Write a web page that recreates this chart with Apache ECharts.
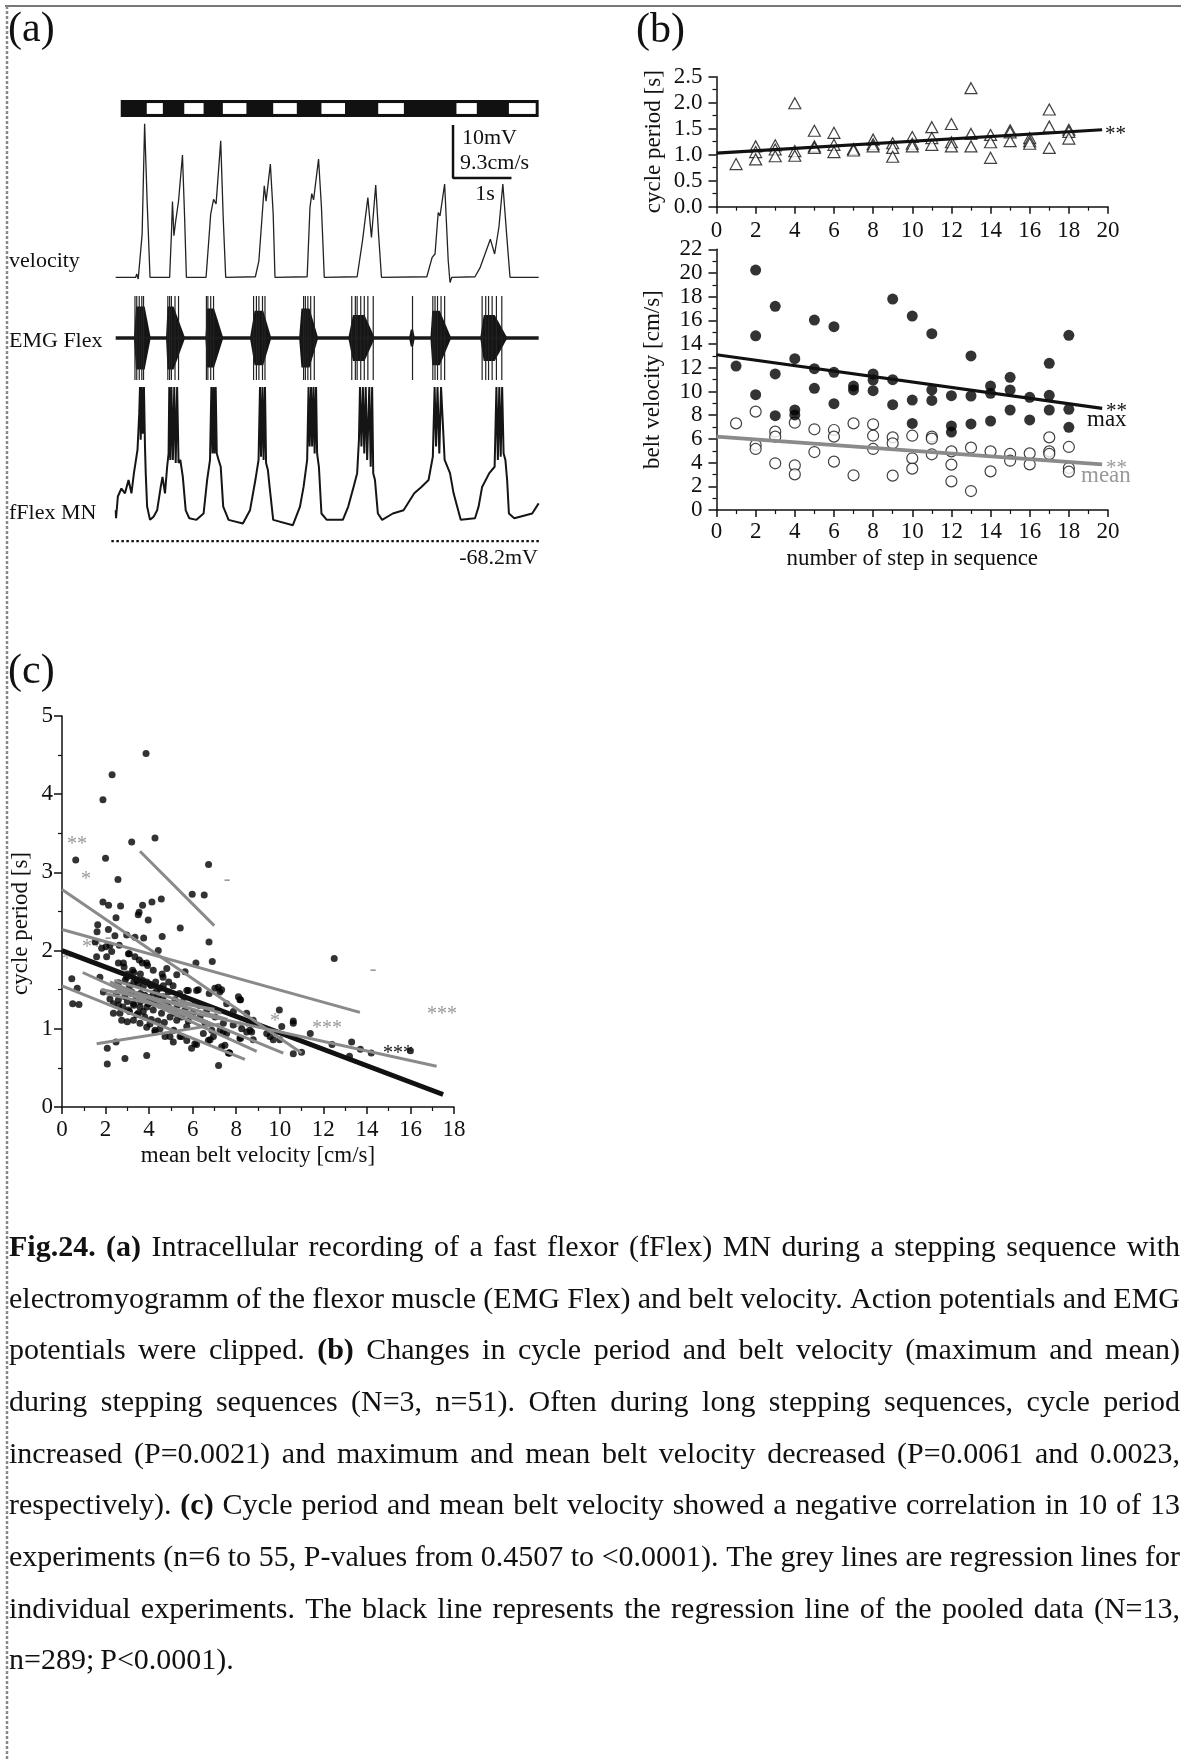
<!DOCTYPE html>
<html><head><meta charset="utf-8">
<script src="https://cdn.jsdelivr.net/npm/echarts@6.0.0/dist/echarts.min.js"></script>
<style>html,body{margin:0;padding:0;background:#fff}#c{width:1181px;height:1760px}</style>
</head><body><div id="c"></div>
<script>
const FONT = '"Liberation Serif", "Times New Roman", serif';

// ---------- (a) recording ----------
const barExtent = [0.087, 7.31];
const barWhiteIntervals = [[0.537,0.815],[1.185,1.519],[1.852,2.259],[2.722,3.13],[3.556,3.963],[4.537,4.981],[5.889,6.241],[6.796,7.259]];
const velocityTrace = [
[0,0],[0.346,0],[0.364,0.6],[0.389,-0.3],[0.42,0],[0.457,7.6],[0.5,27.0],[0.543,13.4],[0.593,0],
[0.932,0],[0.963,7.6],[0.981,13.3],[1.006,7.3],[1.037,9.9],[1.086,13.4],[1.154,21.5],[1.191,10.5],[1.222,0],
[1.562,0],[1.642,11.1],[1.691,13.7],[1.735,12.9],[1.815,24.0],[1.858,10.5],[1.901,0],
[2.414,0.1],[2.475,2.9],[2.568,16.1],[2.599,13.4],[2.673,19.9],[2.722,11.1],[2.753,0],
[3.309,0.1],[3.358,12.3],[3.389,14.7],[3.42,13.6],[3.506,20.8],[3.556,12.3],[3.605,0],
[4.173,0.1],[4.265,6.4],[4.358,14.0],[4.42,7.0],[4.494,16.2],[4.543,7.6],[4.593,0],
[5.377,0.1],[5.469,3.5],[5.519,4.1],[5.574,11.4],[5.605,10.8],[5.685,16.4],[5.747,2.9],[5.778,-0.9],[5.809,0],
[6.21,0.1],[6.302,1.8],[6.475,6.7],[6.549,4.1],[6.623,8.8],[6.691,16.4],[6.765,6.4],[6.815,0],[7.31,0]
];
const emgBursts = [
[0.315,0.352,0.50,0.605,0.75],[0.87,0.895,1.0,1.2,0.75],[1.55,1.58,1.70,1.86,0.7],
[2.32,2.40,2.55,2.69,0.65],[3.17,3.21,3.35,3.50,0.7],[4.02,4.10,4.30,4.48,0.55],
[5.07,5.10,5.14,5.17,0.2],[5.44,5.47,5.60,5.80,0.65],[6.30,6.36,6.55,6.77,0.55]
];
const emgSpikes = [0.333,0.364,0.407,0.451,0.481,0.901,0.932,0.963,1.025,1.086,1.568,1.593,1.642,1.691,
2.383,2.432,2.475,2.537,2.58,3.247,3.278,3.321,3.37,3.432,4.08,4.142,4.173,4.235,4.296,4.358,4.451,5.13,
5.481,5.519,5.562,5.623,5.685,6.333,6.395,6.444,6.506,6.58,6.673];
const mnTrace = [
[0,-62.4],[0.006,-63.9],[0.037,-59.8],[0.099,-58.3],[0.16,-59.2],[0.222,-56.7],[0.272,-59.2],[0.315,-55.4],[0.377,-51.0],[0.407,-44.1],
[0.42,-39.2],[0.432,-49.1],[0.451,-39.2],[0.469,-48.0],[0.488,-39.2],[0.506,-50.4],
[0.519,-55.4],[0.543,-61.7],[0.593,-64.2],[0.654,-63.6],[0.716,-62.4],[0.778,-58.0],[0.809,-56.1],[0.852,-59.2],[0.889,-54.2],[0.914,-51.7],
[0.926,-39.2],[0.944,-52.9],[0.963,-39.2],[0.988,-52.9],[1.012,-39.2],[1.037,-53.5],[1.062,-39.2],[1.086,-53.5],
[1.117,-52.9],[1.16,-56.1],[1.21,-62.4],[1.272,-63.9],[1.395,-64.2],[1.519,-63.0],[1.58,-56.7],[1.63,-52.9],
[1.654,-39.2],[1.673,-51.7],[1.691,-39.2],[1.71,-51.7],[1.728,-39.2],[1.747,-51.7],
[1.778,-52.9],[1.815,-54.2],[1.858,-61.7],[1.951,-64.2],[2.198,-64.9],[2.321,-62.4],[2.414,-56.7],[2.469,-52.9],
[2.494,-39.2],[2.512,-52.3],[2.537,-39.2],[2.556,-52.9],[2.58,-39.2],[2.599,-53.5],
[2.63,-54.8],[2.66,-58.0],[2.722,-64.2],[3.062,-65.2],[3.185,-61.7],[3.247,-58.0],[3.309,-52.9],
[3.333,-39.2],[3.352,-50.4],[3.377,-39.2],[3.395,-50.4],[3.42,-39.2],[3.438,-51.7],[3.463,-39.2],
[3.481,-51.7],[3.512,-54.2],[3.556,-63.0],[3.648,-64.2],[3.926,-64.2],[4.019,-61.7],[4.111,-58.0],[4.173,-55.4],[4.204,-49.1],
[4.222,-39.2],[4.247,-50.4],[4.272,-39.2],[4.296,-51.7],[4.321,-39.2],[4.346,-52.9],[4.383,-39.2],[4.407,-54.2],[4.432,-39.2],
[4.451,-55.4],[4.481,-56.7],[4.531,-63.0],[4.605,-64.2],[4.79,-63.0],[4.975,-62.4],[5.16,-59.2],[5.284,-58.0],[5.407,-56.7],[5.481,-52.3],
[5.512,-39.2],[5.537,-50.4],[5.562,-39.2],[5.593,-51.7],[5.623,-39.2],
[5.685,-52.9],[5.778,-55.4],[5.84,-59.2],[5.963,-64.2],[6.21,-63.9],[6.272,-61.7],[6.333,-58.0],[6.457,-55.4],[6.549,-54.2],
[6.58,-39.2],[6.605,-52.9],[6.63,-39.2],[6.654,-52.3],[6.679,-39.2],[6.704,-51.7],
[6.735,-52.9],[6.765,-56.7],[6.796,-63.0],[6.889,-63.9],[7.198,-63.0],[7.31,-61.1]
];
const restPotential = -68.2;
const restLineRange = [-0.075, 7.32];
const scaleBarTime = [5.83, 6.84];     // 1 s
const scaleBarVel = [17.45, 26.75];    // 9.3 cm/s

// ---------- (b) ----------
const stepNumbers = [1,2,3,4,5,6,7,8,9,10,11,12,13,14,15,16,17,18];
const cyclePeriodByStep = [[0.82],[1.16,1.05,0.91],[1.18,1.10,0.97],[1.99,1.07,0.98],[1.46,1.16,1.13],[1.42,1.19,1.05],
[1.11,1.08],[1.29,1.20,1.16],[1.22,1.13,0.96],[1.34,1.21,1.16],[1.53,1.32,1.19],[1.59,1.24,1.16],[2.28,1.40,1.16],
[1.38,1.24,0.94],[1.47,1.43,1.26],[1.32,1.26,1.21],[1.87,1.54,1.13],[1.48,1.44,1.31]];
const maxVelByStep = [[12.15],[20.25,14.7,9.73],[17.19,11.48,7.96],[12.77,8.44,8.02],[16.03,11.93,10.27],[15.47,11.62,8.97],
[10.46,10.13],[11.48,10.97,10.07],[17.8,11.0,8.89],[16.37,9.28,7.31],[14.88,10.13,9.25],[9.65,7.09,6.58],[13.0,9.62,7.26],
[10.46,9.85,7.51],[11.2,10.13,8.44],[9.51,7.6],[12.38,9.68,8.44],[14.74,8.5,6.98]];
const meanVelByStep = [[7.31],[8.3,5.49,5.15],[6.61,6.19,3.94],[7.37,3.77,3.01],[6.81,4.89],[6.75,6.19,4.08],[7.31,2.93],
[7.23,6.27,5.15],[6.13,5.63,2.9],[6.27,4.36,3.49],[6.19,6.02,4.7],[4.95,3.83,2.42],[5.26,1.6],[4.95,3.26],[4.73,4.16],
[4.78,3.85],[6.13,4.95,4.73],[5.32,3.54,3.23]];
const cycleFit = [[0,1.03],[19.7,1.48]];
const maxFit = [[0,13.1],[19.7,8.58]];
const meanFit = [[0,6.19],[19.7,3.85]];

// ---------- (c) ----------
const pooledPoints = [
[3.86,4.52],[2.30,4.25],[1.88,3.93],[4.27,3.44],[3.2,3.39],[0.63,3.16],[2.0,3.18],[6.73,3.10],[2.57,2.91],[5.98,2.72],
[6.53,2.71],[1.88,2.62],[2.14,2.58],[2.69,2.57],[4.56,2.66],[4.13,2.62],[3.7,2.58],[3.54,2.49],[3.96,2.39],[1.64,2.33],
[5.43,2.29],[2.13,2.27],[1.61,2.24],[2.43,2.19],[3.35,2.17],[3.75,2.16],[4.6,2.18],[2.48,2.42],[3.5,2.46],[2.97,2.2],
[1.52,2.11],[1.59,1.92],[1.82,2.03],[2.2,2.07],[3.05,1.96],[2.82,1.84],[3.35,1.92],[3.69,1.84],[3.93,1.81],
[12.5,1.90],[6.75,2.11],[6.9,1.86],[6.15,1.84],[0.45,1.64],[0.7,1.52],[0.49,1.32],[0.78,1.31],
[9.98,1.24],[8.1,1.41],[8.2,1.37],[10.62,1.10],[10.62,1.07],[10.09,1.03],[11.0,0.70],[10.62,0.68],[12.4,0.80],
[13.3,0.83],[13.2,0.65],[13.7,0.74],[14.2,0.69],[16.0,0.72],[11.4,0.94],[9.55,0.9],[8.78,0.86],[8.2,0.88],[8.48,0.96],
[8.48,1.20],[7.19,0.53],[3.89,0.66],[2.89,0.62],[2.08,0.55],[2.08,0.75],[2.48,0.83],[5.95,0.75],[6.18,0.80],[7.68,0.69],
[6.95,0.90],[7.86,1.05],[7.56,1.32],[7.18,1.53],[7.33,1.50],[6.76,1.45],[6.26,1.50],[5.73,1.49],[5.4,1.45],[5.19,1.37],
[6.1,1.32],[5.65,1.24],[6.34,1.15],[6.65,1.24],[5.73,1.03],[5.42,0.90],[5.13,0.98],[4.73,0.90],[4.27,0.96],[4.04,1.06],
[3.58,1.07],[3.28,1.11],[3.0,1.09],[2.66,1.20],[2.36,1.32],[1.9,1.47],[2.2,1.38],[1.74,1.66],[2.05,1.92],[2.02,2.05],
[2.28,1.99],[2.63,2.07],[3.09,1.96],[4.42,2.0],[4.81,1.77],[5.27,1.69],[5.65,1.73],[4.64,1.66],[4.19,1.75],[3.89,1.84],
[3.55,1.88],[3.24,1.75],[2.85,1.79],[2.59,1.84],[2.97,1.66],[2.59,1.59],[3.43,1.62],[3.73,1.54],[4.04,1.57],[4.35,1.49],
[4.65,1.55],[4.88,1.47],[4.65,1.41],[4.35,1.37],[3.97,1.32],[3.58,1.28],[3.28,1.32],[3.05,1.24],[3.43,1.18],[3.73,1.22],
[4.19,1.24],[4.57,1.20],[4.96,1.15],[5.27,1.11],[4.88,1.28],[3.2,1.47],[2.89,1.41],[2.59,1.37],[2.36,1.20],[2.74,1.11],
[3.89,1.02],[4.5,1.0],[5.11,0.83],[5.73,0.85],[6.49,0.94],[6.72,0.85],[7.26,0.98],[6.57,1.07],[7.03,1.15],[7.87,1.22],
[7.56,0.94],[8.78,1.11],[9.4,0.94],[7.02,1.52],[7.25,1.47],[6.18,1.49],[5.8,1.49],[8.63,0.98],[8.17,0.88],[9.7,0.86],
[10.0,0.86],[7.48,0.79],[7.33,0.77],[7.7,0.69],[6.88,0.98],[7.41,0.96],[7.41,1.07],[8.25,1.0],[4.27,0.98],[4.96,0.90],
[5.49,0.90],[6.1,0.81],[6.8,0.86],[7.64,0.69],[8.71,0.96],[8.17,1.37],
[3.1,1.55],[3.3,1.6],[3.5,1.58],[3.7,1.62],[3.9,1.6],[4.1,1.55],[4.3,1.6],[4.5,1.52],[3.2,1.45],[3.4,1.42],
[3.6,1.45],[3.8,1.43],[4.0,1.4],[4.2,1.45],[4.4,1.42],[3.0,1.35],[3.3,1.3],[3.6,1.35],[3.9,1.28],[4.2,1.33],
[4.5,1.3],[4.8,1.33],[5.0,1.25],[2.8,1.28],[3.1,1.22],[3.5,1.2],[3.8,1.15],[4.1,1.12],[4.4,1.1],[4.7,1.08],
[2.7,1.5],[2.9,1.62],[3.0,1.7],[3.3,1.72],[3.6,1.7],[2.5,1.45],[2.6,1.3],[5.2,1.2],[5.5,1.15],[5.8,1.1],
[6.0,1.2],[6.3,1.3],[5.3,1.3],[5.6,1.4],[4.6,1.7],[4.9,1.6],[5.1,1.55]
];
const experimentFits = [
[3.58,3.27,6.99,2.32],[0,2.78,11.0,0.69],[0,2.27,13.68,1.21],[0,1.55,8.4,0.61],[0.95,1.72,8.94,0.71],
[2.0,1.45,17.2,0.52],[1.59,0.81,7.25,1.06],[2.2,1.6,10.16,0.69],[2.3,1.55,7.6,1.12],[2.5,1.5,6.8,1.05],
[2.4,1.62,7.3,1.2],[1.8,1.5,7.0,1.25]
];
const pooledFit = [[0,2.0],[17.5,0.16]];

// ---------- caption ----------
const captionLines = [
"^Fig.24. ^(a) Intracellular recording of a fast flexor (fFlex) MN during a stepping sequence with",
"electromyogramm of the flexor muscle (EMG Flex) and belt velocity. Action potentials and EMG",
"potentials were clipped. ^(b) Changes in cycle period and belt velocity (maximum and mean)",
"during stepping sequences (N=3, n=51). Often during long stepping sequences, cycle period",
"increased (P=0.0021) and maximum and mean belt velocity decreased (P=0.0061 and 0.0023,",
"respectively). ^(c) Cycle period and mean belt velocity showed a negative correlation in 10 of 13",
"experiments (n=6 to 55, P-values from 0.4507 to <0.0001). The grey lines are regression lines for",
"individual experiments. The black line represents the regression line of the pooled data (N=13,",
"n=289; P<0.0001)."
];

// ================= build =================
const chart = echarts.init(document.getElementById('c'), null, {renderer: 'canvas', width: 1181, height: 1760});
const GRAY = '#8a8a8a';
const TXT = '#111';

function txt(text, x, y, size, opts) {
  opts = opts || {};
  return {
    type: 'text', x: x, y: y, z: opts.z != null ? opts.z : 10,
    style: {
      text: text, fontSize: size, fontFamily: FONT, fontWeight: opts.bold ? 'bold' : 'normal',
      fill: opts.color || TXT,
      align: opts.align || 'left', textAlign: opts.align || 'left',
      verticalAlign: 'middle', textVerticalAlign: 'middle'
    }
  };
}

function captionElements() {
  const ctx = document.createElement('canvas').getContext('2d');
  const size = 30, left = 9, right = 1180, top = 1248, lead = 51.7;
  const els = [];
  captionLines.forEach((line, i) => {
    const words = line.split(' ').map(w => ({bold: w.charAt(0) === '^', text: w.replace(/^\^/, '')}));
    words.forEach(w => {
      ctx.font = (w.bold ? 'bold ' : '') + size + 'px ' + FONT;
      w.width = ctx.measureText(w.text).width;
    });
    const total = words.reduce((s, w) => s + w.width, 0);
    const last = i === captionLines.length - 1;
    const gap = last ? size * 0.2 : (right - left - total) / (words.length - 1);
    let x = left;
    words.forEach(w => {
      els.push(txt(w.text, x, top + i * lead, size, {bold: w.bold}));
      x += w.width + gap;
    });
  });
  return els;
}

const aMin = -0.1, aMax = 7.33, aPxPerSec = 57.86, aZeroX = 115.7;
const aLeft = aZeroX + aMin * aPxPerSec, aWidth = (aMax - aMin) * aPxPerSec;
const grids = [
  {left: aLeft, top: 100, width: aWidth, height: 17},      // 0 bar
  {left: aLeft, top: 118, width: aWidth, height: 165},     // 1 velocity
  {left: aLeft, top: 296, width: aWidth, height: 84},      // 2 EMG
  {left: aLeft, top: 385, width: aWidth, height: 163},     // 3 MN
  {left: 716.5, top: 76.7, width: 391.5, height: 130},     // 4 (b) cycle
  {left: 716.5, top: 249.3, width: 391.5, height: 260.7},  // 5 (b) velocity
  {left: 62, top: 716, width: 392, height: 391}            // 6 (c)
];

function hiddenAxis(gi, min, max) {
  return {type: 'value', gridIndex: gi, min: min, max: max, show: false};
}
function sciAxis(gi, min, max, interval, o) {
  o = o || {};
  return {
    type: 'value', gridIndex: gi, min: min, max: max, interval: interval,
    axisLine: {show: true, onZero: false, lineStyle: {color: TXT, width: 1.5}},
    axisTick: {show: true, inside: false, length: o.tick || 7, lineStyle: {color: TXT, width: 1.5}},
    minorTick: {show: true, splitNumber: 2, length: 4, lineStyle: {color: TXT, width: 1.2}},
    splitLine: {show: false}, minorSplitLine: {show: false},
    axisLabel: {fontSize: 23, lineHeight: 18, fontFamily: FONT, color: TXT, margin: o.margin != null ? o.margin : 8,
      showMinLabel: true, showMaxLabel: true, hideOverlap: false,
      formatter: o.fmt || (v => String(v))},
    name: o.name || '', nameLocation: 'middle', nameGap: o.nameGap || 30,
    nameTextStyle: Object.assign({fontSize: 23, fontFamily: FONT, color: TXT}, o.namePad ? {padding: o.namePad} : {})
  };
}

const xAxes = [
  hiddenAxis(0, aMin, aMax), hiddenAxis(1, aMin, aMax), hiddenAxis(2, aMin, aMax), hiddenAxis(3, aMin, aMax),
  sciAxis(4, 0, 20, 2, {tick: 7, margin: 15}),
  sciAxis(5, 0, 20, 2, {tick: 7, margin: 12.5, name: 'number of step in sequence', nameGap: 37}),
  sciAxis(6, 0, 18, 2, {tick: 7, margin: 14, name: 'mean belt velocity [cm/s]', nameGap: 37})
];
const yAxes = [
  hiddenAxis(0, 0, 1), hiddenAxis(1, -1, 28), hiddenAxis(2, -1, 1), hiddenAxis(3, -69.5, -38.8),
  sciAxis(4, 0, 2.5, 0.5, {tick: 8, margin: 14, fmt: v => v.toFixed(1), name: 'cycle period [s]', nameGap: 51}),
  sciAxis(5, 0, 22, 2, {tick: 8, margin: 14, name: 'belt velocity [cm/s]', nameGap: 52}),
  sciAxis(6, 0, 5, 1, {tick: 8, margin: 9, name: 'cycle period [s]', nameGap: 30, namePad: [0, 24, 0, 0]})
];

function lineSeries(gi, data, color, width, extra) {
  return Object.assign({
    type: 'line', xAxisIndex: gi, yAxisIndex: gi, data: data, showSymbol: false, symbol: 'none',
    lineStyle: {color: color, width: width}, silent: true, animation: false, z: 3
  }, extra || {});
}
function byStep(arr) {
  return stepNumbers.flatMap((s, i) => arr[i].map(v => [s, v]));
}

const series = [
  {type: 'custom', xAxisIndex: 0, yAxisIndex: 0, data: [barExtent], animation: false, silent: true,
    renderItem: (p, api) => {
      const a = api.coord([api.value(0), 1]), b = api.coord([api.value(1), 0]);
      return {type: 'rect', shape: {x: a[0], y: a[1], width: b[0] - a[0], height: b[1] - a[1]}, style: {fill: '#111'}};
    }},
  {type: 'custom', xAxisIndex: 0, yAxisIndex: 0, data: barWhiteIntervals, animation: false, silent: true, z: 3,
    renderItem: (p, api) => {
      const a = api.coord([api.value(0), 0.82]), b = api.coord([api.value(1), 0.18]);
      return {type: 'rect', shape: {x: a[0], y: a[1], width: b[0] - a[0], height: b[1] - a[1]}, style: {fill: '#fff'}};
    }},
  lineSeries(1, velocityTrace, '#222', 1.3),
  lineSeries(1, [[scaleBarTime[0], scaleBarVel[1]], [scaleBarTime[0], scaleBarVel[0]], [scaleBarTime[1], scaleBarVel[0]]], '#111', 2.5),
  lineSeries(2, [[0, 0], [7.31, 0]], '#1a1a1a', 3.5),
  {type: 'custom', xAxisIndex: 2, yAxisIndex: 2, data: emgBursts, animation: false, silent: true, z: 3,
    renderItem: (p, api) => {
      const t0 = api.value(0), t1 = api.value(1), t2 = api.value(2), t3 = api.value(3), a = api.value(4);
      const pts = [[t0, 0], [t1, a], [t2, a], [t3, 0], [t2, -a], [t1, -a]].map(q => api.coord(q));
      return {type: 'polygon', shape: {points: pts}, style: {fill: '#151515'}};
    }},
  {type: 'custom', xAxisIndex: 2, yAxisIndex: 2, data: emgSpikes.map(t => [t]), animation: false, silent: true, z: 4,
    renderItem: (p, api) => {
      const a = api.coord([api.value(0), 1]), b = api.coord([api.value(0), -1]);
      return {type: 'line', shape: {x1: a[0], y1: a[1], x2: b[0], y2: b[1]}, style: {stroke: '#222', lineWidth: 1.2}};
    }},
  lineSeries(3, mnTrace, '#151515', 2),
  lineSeries(3, [[restLineRange[0], restPotential], [restLineRange[1], restPotential]], '#111', 2.2, {lineStyle: {color: '#111', width: 2.2, type: [2.5, 2.5]}}),
  {type: 'scatter', xAxisIndex: 4, yAxisIndex: 4, data: byStep(cyclePeriodByStep), symbol: 'triangle', symbolSize: [12, 11],
    itemStyle: {color: '#fff', borderColor: '#111', borderWidth: 1.2}, animation: false, z: 2},
  lineSeries(4, cycleFit, '#111', 3.2, {z: 4}),
  {type: 'scatter', xAxisIndex: 5, yAxisIndex: 5, data: byStep(meanVelByStep), symbol: 'circle', symbolSize: 11,
    itemStyle: {color: '#fff', borderColor: '#111', borderWidth: 1.2}, animation: false, z: 2},
  {type: 'scatter', xAxisIndex: 5, yAxisIndex: 5, data: byStep(maxVelByStep), symbol: 'circle', symbolSize: 11,
    itemStyle: {color: '#000'}, animation: false, z: 2},
  lineSeries(5, maxFit, '#111', 3.2, {z: 4}),
  lineSeries(5, meanFit, GRAY, 3.6, {z: 4}),
  {type: 'scatter', xAxisIndex: 6, yAxisIndex: 6, data: pooledPoints, symbol: 'circle', symbolSize: 7,
    itemStyle: {color: '#000'}, animation: false, z: 2},
  lineSeries(6, pooledFit, '#111', 5, {z: 3})
].concat(experimentFits.map(f => lineSeries(6, [[f[0], f[1]], [f[2], f[3]]], GRAY, 3, {z: 4})));

const graphics = [
  {type: 'line', shape: {x1: 5, y1: 6, x2: 1181, y2: 6}, style: {stroke: '#777', lineWidth: 2}, z: 1},
  {type: 'line', shape: {x1: 7, y1: 6, x2: 7, y2: 1760}, style: {stroke: '#888', lineWidth: 2.5, lineDash: [3, 2]}, z: 1},
  txt('(a)', 8, 30, 42), txt('(b)', 636, 31, 42), txt('(c)', 8, 672, 42),
  txt('velocity', 9, 261, 22), txt('EMG Flex', 9, 341, 22), txt('fFlex MN', 9, 513, 22),
  txt('-68.2mV', 538, 558, 22, {align: 'right'}),
  txt('10mV', 462, 138, 22), txt('9.3cm/s', 460, 163, 22), txt('1s', 485, 194, 22, {align: 'center'}),
  txt('**', 1105, 134, 21), txt('**', 1106, 411, 21), txt('max', 1087, 420, 23),
  txt('**', 1106, 468, 21, {color: '#999'}), txt('mean', 1081, 476, 23, {color: '#999'}),
  txt('**', 67, 845, 20, {color: '#999'}), txt('*', 86, 880, 20, {color: '#999', align: 'center'}),
  txt('**', 82, 948, 20, {color: '#999', z: 1}), txt('*', 67, 960, 20, {color: '#999', align: 'center', z: 1}),
  txt('-', 227, 880, 20, {color: '#999', align: 'center'}), txt('-', 373, 970, 20, {color: '#999', align: 'center'}),
  txt('-', 108, 938, 20, {color: '#999', align: 'center', z: 1}),
  txt('*', 275, 1022, 20, {color: '#999', align: 'center'}), txt('**', 245, 1030, 20, {color: '#999', align: 'center', z: 1}),
  txt('***', 327, 1029, 20, {color: '#999', align: 'center'}), txt('***', 442, 1015, 20, {color: '#999', align: 'center'}),
  txt('***', 398, 1054, 20, {color: '#111', align: 'center'})
].concat(captionElements());

chart.setOption({
  backgroundColor: '#fff',
  animation: false,
  grid: grids,
  xAxis: xAxes,
  yAxis: yAxes,
  series: series,
  graphic: {elements: graphics}
});
</script></body></html>
